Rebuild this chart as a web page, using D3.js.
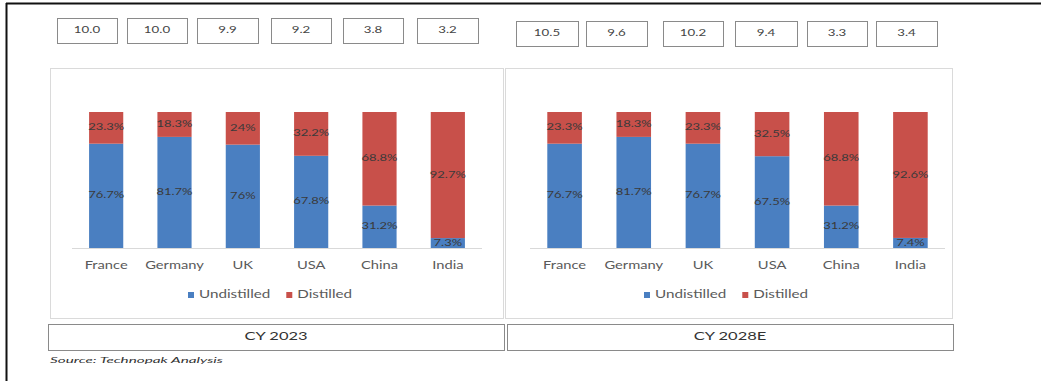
<!DOCTYPE html>
<html>
<head>
<meta charset="utf-8">
<script src="https://cdn.jsdelivr.net/npm/d3@7"></script>
<style>
  html, body { margin: 0; padding: 0; background: #fff; }
  svg { display: block; font-family: "Lato", "Open Sans", sans-serif; }
</style>
</head>
<body>
<svg id="chart" width="1041" height="381"></svg>
<script>
// Countries shown in each panel
const countries = ["France", "Germany", "UK", "USA", "China", "India"];

// Market size shown in the boxes above each bar
const total2023 = ["10.0", "10.0", "9.9", "9.2", "3.8", "3.2"];
const total2028 = ["10.5", "9.6", "10.2", "9.4", "3.3", "3.4"];

// Share of undistilled / distilled (%)
const undistilled2023 = [76.7, 81.7, 76, 67.8, 31.2, 7.3];
const distilled2023   = [23.3, 18.3, 24, 32.2, 68.8, 92.7];
const undistilled2028 = [76.7, 81.7, 76.7, 67.5, 31.2, 7.4];
const distilled2028   = [23.3, 18.3, 23.3, 32.5, 68.8, 92.6];

const seriesNames = ["Undistilled", "Distilled"];
const periodLabels = ["CY 2023", "CY 2028E"];
const sourceNote = "Source: Technopak Analysis";

const colors = { Undistilled: "#4a7fc1", Distilled: "#c8504a" };

// Text in this exhibit is set in a wide face; emulate it with a horizontal stretch
const STRETCH = 1.4;

const svg = d3.select("#chart");

// Place a horizontally stretched text label at (x, y)
function label(parent, x, y, txt, o = {}) {
  const sx = o.sx || STRETCH;
  return parent.append("text")
    .attr("transform", `translate(${x},${y}) scale(${sx},1)`)
    .attr("text-anchor", o.anchor || "middle")
    .attr("dominant-baseline", "middle")
    .attr("font-size", o.size || 10)
    .attr("font-style", o.italic ? "italic" : null)
    .attr("fill", o.fill || "#444")
    .text(txt);
}

// Outer frame: heavy rule along the top and left edges
svg.append("line").attr("x1", 6).attr("x2", 1041).attr("y1", 3.5).attr("y2", 3.5)
  .attr("stroke", "#111").attr("stroke-width", 2);
svg.append("line").attr("x1", 6.5).attr("x2", 6.5).attr("y1", 3).attr("y2", 381)
  .attr("stroke", "#111").attr("stroke-width", 2);

const panels = [
  {
    label: periodLabels[0], totals: total2023, und: undistilled2023, dis: distilled2023,
    frame: [50, 68, 503, 318], xRange: [72, 482], caption: [48, 324, 504, 350],
    boxes: { y: [18, 43], x: [[57,117],[127,187],[197,258],[271,331],[343,403],[417,478]] },
    legendX: 188
  },
  {
    label: periodLabels[1], totals: total2028, und: undistilled2028, dis: distilled2028,
    frame: [505, 68, 952, 318], xRange: [530, 945], caption: [507, 324, 953, 350],
    boxes: { y: [21, 46], x: [[516,578],[586,647],[663,723],[735,797],[807,867],[876,937]] },
    legendX: 644
  }
];

const y = d3.scaleLinear().domain([0, 100]).range([248, 112]);

panels.forEach(p => {
  const g = svg.append("g");

  // Market size boxes
  p.totals.forEach((t, i) => {
    const [x0, x1] = p.boxes.x[i];
    g.append("rect").attr("x", x0 + 0.5).attr("y", p.boxes.y[0] + 0.5)
      .attr("width", x1 - x0).attr("height", p.boxes.y[1] - p.boxes.y[0])
      .attr("fill", "#fff").attr("stroke", "#8a8a8a").attr("stroke-width", 1);
    label(g, (x0 + x1) / 2, (p.boxes.y[0] + p.boxes.y[1]) / 2 + 0.5, t, { size: 9.5, fill: "#444" });
  });

  // Chart area frame
  const [fx0, fy0, fx1, fy1] = p.frame;
  g.append("rect").attr("x", fx0 + 0.5).attr("y", fy0 + 0.5)
    .attr("width", fx1 - fx0).attr("height", fy1 - fy0)
    .attr("fill", "#fff").attr("stroke", "#dadada");

  const x = d3.scaleBand().domain(countries).range(p.xRange).paddingInner(0.5).paddingOuter(0.25);

  const rows = countries.map((c, i) => ({ country: c, Undistilled: p.und[i], Distilled: p.dis[i] }));
  const stacked = d3.stack().keys(seriesNames)(rows);

  // Baseline
  g.append("line").attr("x1", p.xRange[0]).attr("x2", p.xRange[1])
    .attr("y1", y(0) + 0.5).attr("y2", y(0) + 0.5).attr("stroke", "#d9d9d9");

  stacked.forEach(layer => {
    g.selectAll(null).data(layer).join("rect")
      .attr("x", d => x(d.data.country))
      .attr("width", x.bandwidth())
      .attr("y", d => y(d[1]))
      .attr("height", d => y(d[0]) - y(d[1]))
      .attr("fill", colors[layer.key]);
  });

  // Segment value labels
  stacked.forEach(layer => {
    layer.forEach(d => {
      const v = +(d[1] - d[0]).toFixed(1);
      label(g, x(d.data.country) + x.bandwidth() / 2, (y(d[0]) + y(d[1])) / 2,
        d3.format("~f")(v) + "%", { size: 10, fill: "#3a3a3a", sx: 1.3 });
    });
  });

  // Category axis
  const axis = g.append("g").attr("transform", `translate(0,${y(0)})`)
    .call(d3.axisBottom(x).tickSize(0).tickPadding(14));
  axis.select(".domain").remove();
  axis.selectAll("text")
    .attr("font-size", 10.5).attr("fill", "#5a5a5a")
    .attr("font-family", "Lato, 'Open Sans', sans-serif")
    .attr("transform", `scale(${STRETCH},1)`);

  // Legend
  let lx = p.legendX;
  seriesNames.forEach(s => {
    g.append("rect").attr("x", lx).attr("y", 292).attr("width", 6).attr("height", 6)
      .attr("fill", colors[s]);
    const t = label(g, lx + 11, 295.5, s, { anchor: "start", size: 10.5, fill: "#5a5a5a", sx: 1.45 });
    lx += 11 + t.node().getComputedTextLength() * 1.45 + 16;
  });

  // Period caption box
  const [cx0, cy0, cx1, cy1] = p.caption;
  g.append("rect").attr("x", cx0 + 0.5).attr("y", cy0 + 0.5)
    .attr("width", cx1 - cx0).attr("height", cy1 - cy0)
    .attr("fill", "#fff").attr("stroke", "#8a8a8a");
  label(g, (cx0 + cx1) / 2, (cy0 + cy1) / 2 + 0.5, p.label, { size: 11, fill: "#333", sx: 1.5 });
});

label(svg, 50, 360.5, sourceNote, { anchor: "start", size: 8.5, italic: true, fill: "#333", sx: 1.8 });
</script>
</body>
</html>
